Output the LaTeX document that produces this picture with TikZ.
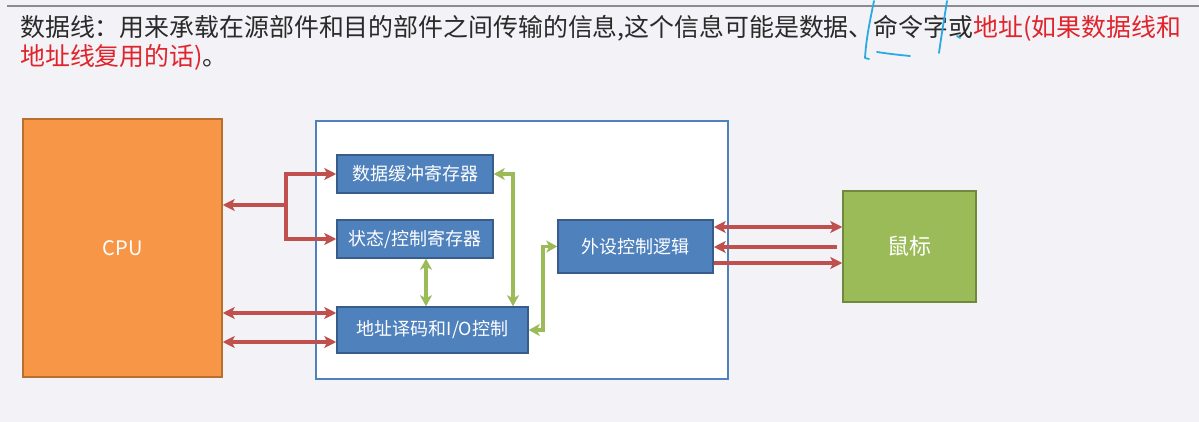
\documentclass[tikz,border=0pt]{standalone}
\usepackage{fontspec}
\setmainfont{Noto Sans CJK SC}
\usetikzlibrary{arrows.meta}
\definecolor{bg}{HTML}{F3F2F6}
\definecolor{txt}{HTML}{2A2A2A}
\definecolor{hred}{HTML}{E0242B}
\definecolor{rule}{HTML}{8C8C8C}
\definecolor{orf}{HTML}{F79646}
\definecolor{ord}{HTML}{B8702F}
\definecolor{blf}{HTML}{4F81BD}
\definecolor{bld}{HTML}{385D8A}
\definecolor{grf}{HTML}{9BBB59}
\definecolor{grd}{HTML}{71893F}
\definecolor{arr}{HTML}{C0504D}
\definecolor{pen}{HTML}{2AAAE2}
\tikzset{
  box/.style={draw, line width=1.5pt, inner sep=0pt, text=white, align=center},
  bluebox/.style={box, fill=blf, draw=bld, font=\fontsize{18}{20}\selectfont},
  rtip/.tip={Stealth[length=12pt,width=12pt,inset=3pt]},
  gtip/.tip={Stealth[length=11pt,width=12pt,inset=3pt]},
  redline/.style={draw=arr, line width=3.2pt, rtip-rtip},
  redone/.style={draw=arr, line width=3.2pt, -rtip},
  greenline/.style={draw=grf, line width=3.4pt, gtip-gtip},
  penline/.style={draw=pen, line width=1.8pt, line cap=round, line join=round},
}
\begin{document}
\begin{tikzpicture}[x=1pt,y=-1pt]
\fill[bg] (0,0) rectangle (1199,422);
\useasboundingbox (0,0) rectangle (1199,422);
% header
\draw[rule, line width=1.6pt] (7,6) -- (1199,6);
\node[anchor=base west, inner sep=0pt, font=\fontsize{24.9}{28}\selectfont, text=txt] (h1) at (20,37)
  {数据线：用来承载在源部件和目的部件之间传输的信息,这个信息可能是数据、命令字或\textcolor{hred}{地址(如果数据线和}};
\node[anchor=base west, inner sep=0pt, font=\fontsize{24.9}{28}\selectfont, text=txt] (h2) at (20,66)
  {\textcolor{hred}{地址线复用的话)}。};
% handwritten marks
\draw[penline] (874,1) .. controls (870,20) and (866,40) .. (865,58) -- (869,59);
\draw[penline] (877,52) .. controls (890,54) and (900,55) .. (910,56);
\draw[penline] (947,1) .. controls (944,20) and (941,38) .. (939,53);
\draw[penline] (957,36) -- (960,38);
% blocks
\node[box, fill=orf, draw=ord, minimum width=199pt, minimum height=258pt, font=\fontsize{20}{24}\selectfont] (cpu) at (122.5,248) {CPU};
\node[draw=blf, fill=white, line width=1.5pt, minimum width=412pt, minimum height=258pt, inner sep=0pt] (io) at (522,250) {};
\node[bluebox, minimum width=156pt, minimum height=38pt] (buf) at (415,174) {数据缓冲寄存器};
\node[bluebox, minimum width=156pt, minimum height=38pt] (stat) at (415,239) {状态/控制寄存器};
\node[bluebox, minimum width=191pt, minimum height=46pt] (dec) at (432.5,330) {地址译码和I/O控制};
\node[bluebox, minimum width=155pt, minimum height=53pt] (ctl) at (635.5,246.5) {外设控制逻辑};
\node[box, fill=grf, draw=grd, minimum width=133pt, minimum height=111pt, font=\fontsize{22}{24}\selectfont] (mouse) at (909.5,246.5) {鼠标};
% helper coordinates
\coordinate (J) at (286,205);
\coordinate (ya) at (0,313);
\coordinate (yb) at (0,342);
\coordinate (gx) at (513,0);
\coordinate (sx) at (426,0);
\coordinate (dx) at (543,0);
\coordinate (r1) at (0,227);
\coordinate (r2) at (0,247);
\coordinate (r3) at (0,263);
% red connectors
\draw[redone, line width=4.2pt] (J) -- (J -| cpu.east);
\draw[redone] (J) |- (buf.west);
\draw[redone] (J) |- (stat.west);
\draw[redline] (cpu.east |- ya) -- (dec.west |- ya);
\draw[redline] (cpu.east |- yb) -- (dec.west |- yb);
\draw[redline] (ctl.east |- r1) -- (mouse.west |- r1);
\draw[redone] ([xshift=-5pt]mouse.west |- r2) -- (ctl.east |- r2);
\draw[redone] (ctl.east |- r3) -- (mouse.west |- r3);
% green connectors
\draw[greenline] (buf.east) -| (dec.north -| gx);
\draw[greenline] (stat.south -| sx) -- (dec.north -| sx);
\draw[greenline] (dec.east) -- (dec.east -| dx) -- (ctl.west -| dx) -- (ctl.west);
\end{tikzpicture}
\end{document}
